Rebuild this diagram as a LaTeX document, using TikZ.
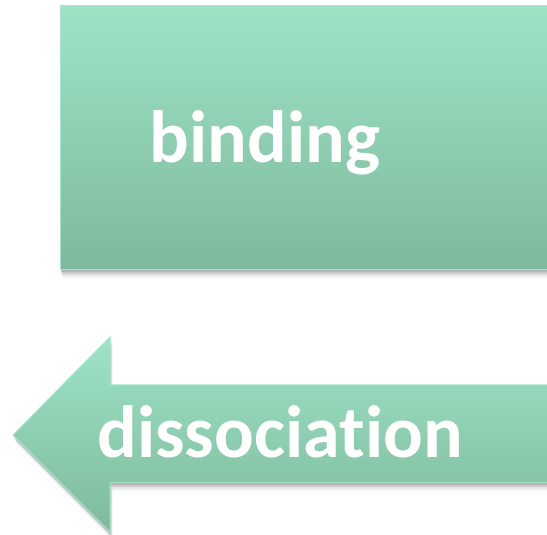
\documentclass[tikz,border=0pt]{standalone}
\usepackage{fontspec}
\setmainfont[Ligatures={NoCommon}]{Carlito}
\definecolor{topc}{RGB}{158,227,198}
\definecolor{botc}{RGB}{127,185,157}
\definecolor{edgec}{RGB}{165,230,203}
\begin{document}
\begin{tikzpicture}[x=1pt,y=1pt,
  shapefill/.style={top color=topc,bottom color=botc,draw=edgec,line width=1pt},
  shadowlayer/.style={fill=black,draw=none},
  label/.style={text=white,font=\bfseries\fontsize{74}{74}\selectfont,inner sep=0pt,anchor=base}]
\useasboundingbox (0,0) rectangle (547,535);
\clip (0,0) rectangle (547,535);
% shadows
\foreach \d/\o in {2/0.12,4/0.10,6/0.07,8/0.04}{
  \fill[shadowlayer,opacity=\o] (60+\d/4,265-\d) rectangle (580,529-\d+2);
  \fill[shadowlayer,opacity=\o] (13+\d/3,100-\d) -- (110+\d/3,198-\d) -- (110+\d/3,150-\d) -- (580,150-\d) -- (580,52-\d) -- (110+\d/3,52-\d) -- (110+\d/3,3-\d) -- cycle;
}
% binding box
\path[shapefill] (60,265) rectangle (580,529);
\node[label] (binding) at (265,372) {binding};
% dissociation arrow
\path[shapefill] (13,100) -- (110,198) -- (110,150) -- (580,150) -- (580,52) -- (110,52) -- (110,3) -- cycle;
\node[label] (dissociation) at (280,77) {dissociation};
\end{tikzpicture}
\end{document}
